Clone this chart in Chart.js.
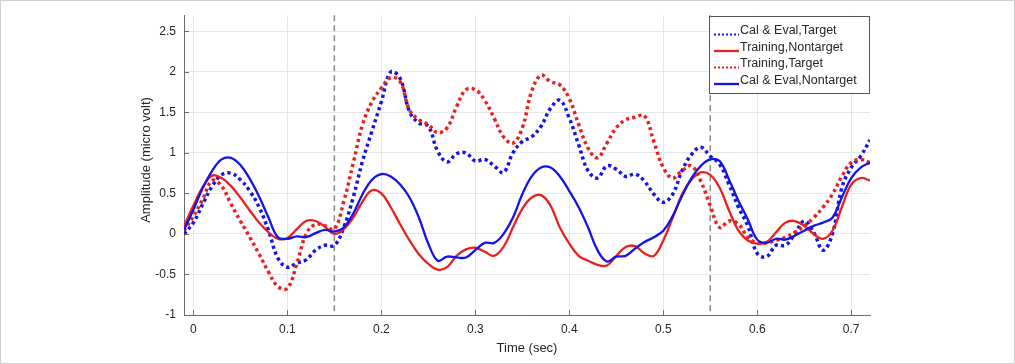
<!DOCTYPE html>
<html>
<head>
<meta charset="utf-8">
<script src="https://cdn.jsdelivr.net/npm/chart.js@4.4.1/dist/chart.umd.min.js"></script>
<style>
  html, body { margin: 0; padding: 0; background: #ffffff; }
  #wrap { position: relative; width: 1015px; height: 364px; }
</style>
</head>
<body>
<div id="wrap"><canvas id="c" width="1015" height="364"></canvas></div>
<script>
// ---- data ----
const times = [-0.01, 0.00, 0.01, 0.02, 0.03, 0.04, 0.05, 0.06, 0.07, 0.08, 0.09,
  0.10, 0.11, 0.12, 0.13, 0.14, 0.15, 0.16, 0.17, 0.18, 0.19,
  0.20, 0.21, 0.22, 0.23, 0.24, 0.25, 0.26, 0.27, 0.28, 0.29,
  0.30, 0.31, 0.32, 0.33, 0.34, 0.35, 0.36, 0.37, 0.38, 0.39,
  0.40, 0.41, 0.42, 0.43, 0.44, 0.45, 0.46, 0.47, 0.48, 0.49,
  0.50, 0.51, 0.52, 0.53, 0.54, 0.55, 0.56, 0.57, 0.58, 0.59,
  0.60, 0.61, 0.62, 0.63, 0.64, 0.65, 0.66, 0.67, 0.68, 0.69,
  0.70, 0.71, 0.72];

const calEvalTarget = [0.0, 0.14, 0.37, 0.59, 0.73, 0.75, 0.67, 0.53, 0.33, 0.04, -0.3,
  -0.41, -0.36, -0.32, -0.2, -0.14, -0.14, 0.08, 0.45, 0.9, 1.27,
  1.63, 2.0, 1.92, 1.51, 1.37, 1.33, 1.02, 0.89, 0.99, 1.0,
  0.9, 0.92, 0.84, 0.76, 1.0, 1.14, 1.2, 1.33, 1.55, 1.65,
  1.43, 1.1, 0.78, 0.69, 0.84, 0.8, 0.71, 0.74, 0.65, 0.49,
  0.39, 0.49, 0.78, 0.98, 1.07, 0.96, 0.86, 0.61, 0.33, 0.1,
  -0.24, -0.28, -0.14, -0.14, 0.0, 0.16, 0.02, -0.2, 0.0, 0.57,
  0.82, 0.96, 1.16];

const trainingNontarget = [0.1, 0.35, 0.58, 0.72, 0.69, 0.59, 0.45, 0.29, 0.14, 0.02, -0.06,
  -0.05, 0.06, 0.16, 0.16, 0.09, 0.0, 0.06, 0.2, 0.4, 0.54,
  0.5, 0.33, 0.12, -0.08, -0.25, -0.37, -0.44, -0.41, -0.27, -0.19,
  -0.17, -0.22, -0.27, -0.16, 0.08, 0.31, 0.45, 0.48, 0.35, 0.08,
  -0.12, -0.27, -0.33, -0.38, -0.39, -0.27, -0.16, -0.15, -0.24, -0.27,
  -0.08, 0.2, 0.49, 0.67, 0.76, 0.73, 0.57, 0.29, 0.04, -0.08,
  -0.12, -0.1, 0.02, 0.14, 0.16, 0.1, 0.0, -0.06, 0.04, 0.33,
  0.61, 0.69, 0.66];

const trainingTarget = [0.04, 0.22, 0.43, 0.66, 0.59, 0.37, 0.16, -0.04, -0.25, -0.47, -0.65,
  -0.67, -0.37, 0.0, 0.12, 0.1, 0.06, 0.4, 0.87, 1.35, 1.63,
  1.8, 1.93, 1.88, 1.53, 1.41, 1.35, 1.25, 1.31, 1.57, 1.78,
  1.78, 1.65, 1.43, 1.2, 1.12, 1.31, 1.76, 1.96, 1.88, 1.84,
  1.67, 1.35, 1.06, 0.94, 1.12, 1.31, 1.41, 1.44, 1.46, 1.14,
  0.82, 0.69, 0.78, 0.84, 0.65, 0.35, 0.08, 0.16, 0.12, -0.04,
  -0.11, -0.11, -0.08, -0.04, 0.02, 0.1, 0.2, 0.33, 0.49, 0.71,
  0.88, 0.92, 0.88];

const calEvalNontarget = [0.05, 0.3, 0.57, 0.78, 0.92, 0.94, 0.85, 0.68, 0.46, 0.2, -0.04,
  -0.06, -0.03, -0.04, 0.01, 0.05, 0.03, 0.08, 0.25, 0.49, 0.67,
  0.74, 0.71, 0.61, 0.45, 0.2, -0.12, -0.33, -0.28, -0.29, -0.29,
  -0.2, -0.11, -0.11, 0.0, 0.2, 0.49, 0.71, 0.82, 0.82, 0.71,
  0.53, 0.33, 0.08, -0.2, -0.34, -0.28, -0.27, -0.18, -0.1, -0.04,
  0.04, 0.22, 0.47, 0.69, 0.84, 0.92, 0.9, 0.67, 0.41, 0.18,
  -0.07, -0.11, -0.06, -0.07, -0.02, 0.04, 0.1, 0.14, 0.2, 0.45,
  0.69, 0.82, 0.88];

const seriesNames = ["Cal & Eval,Target", "Training,Nontarget", "Training,Target", "Cal & Eval,Nontarget"];
const xTickValues = [0, 0.1, 0.2, 0.3, 0.4, 0.5, 0.6, 0.7];
const xTickLabels = ["0", "0.1", "0.2", "0.3", "0.4", "0.5", "0.6", "0.7"];
const yTickValues = [-1, -0.5, 0, 0.5, 1, 1.5, 2, 2.5];
const yTickLabels = ["-1", "-0.5", "0", "0.5", "1", "1.5", "2", "2.5"];
const markerTimes = [0.15, 0.55];
const xTitle = "Time (sec)";
const yTitle = "Amplitude (micro volt)";

// ---- styles ----
const BLUE = "#1414e6";
const RED = "#e8211f";
const FONT = "'Liberation Sans', Arial, Helvetica, sans-serif";

function pts(vals) { return times.map((t, i) => ({ x: t, y: vals[i] })); }

const styleDotted = { borderWidth: 3.5, borderDash: [3.2, 3.2], borderCapStyle: 'butt' };
const styleSolid = { borderWidth: 2.3, borderDash: [] };

const datasets = [
  Object.assign({ label: seriesNames[0], data: pts(calEvalTarget), borderColor: BLUE, order: 4 }, styleDotted),
  Object.assign({ label: seriesNames[1], data: pts(trainingNontarget), borderColor: RED, order: 3 }, styleSolid),
  Object.assign({ label: seriesNames[2], data: pts(trainingTarget), borderColor: RED, order: 2 }, styleDotted),
  Object.assign({ label: seriesNames[3], data: pts(calEvalNontarget), borderColor: BLUE, order: 1 }, styleSolid)
];
datasets.forEach(d => { d.pointRadius = 0; d.fill = false; d.tension = 0.4; });

const decor = {
  id: 'decor',
  beforeDatasetsDraw(chart) {
    const ctx = chart.ctx, xs = chart.scales.x, ys = chart.scales.y, a = chart.chartArea;
    ctx.save();
    // inward ticks
    ctx.strokeStyle = '#6e6e6e'; ctx.lineWidth = 1;
    ctx.beginPath();
    xTickValues.forEach(v => { const px = Math.round(xs.getPixelForValue(v)) + 0.5; ctx.moveTo(px, a.bottom); ctx.lineTo(px, a.bottom - 5); });
    yTickValues.forEach(v => { const py = Math.round(ys.getPixelForValue(v)) + 0.5; ctx.moveTo(a.left, py); ctx.lineTo(a.left + 5, py); });
    ctx.stroke();
    // dashed marker lines
    ctx.strokeStyle = '#8a8a8a'; ctx.lineWidth = 1.5; ctx.setLineDash([6, 4]);
    markerTimes.forEach(t => {
      const px = xs.getPixelForValue(t);
      ctx.beginPath(); ctx.moveTo(px, a.top); ctx.lineTo(px, a.bottom); ctx.stroke();
    });
    ctx.restore();
  },
  afterDraw(chart) {
    const ctx = chart.ctx, a = chart.chartArea;
    ctx.save();
    // figure border
    ctx.strokeStyle = '#cfcfcf'; ctx.lineWidth = 1;
    ctx.strokeRect(0.5, 0.5, chart.width - 1, chart.height - 1);
    // axis titles
    ctx.fillStyle = '#262626';
    ctx.font = "13px " + FONT;
    ctx.textAlign = 'center'; ctx.textBaseline = 'middle';
    ctx.fillText(xTitle, (a.left + a.right) / 2, 348);
    ctx.translate(146, 160); ctx.rotate(-Math.PI / 2);
    ctx.fillText(yTitle, 0, 0);
    ctx.restore();
    // legend
    ctx.save();
    const bx = 709.5, by = 16.5, bw = 160, bh = 77;
    ctx.fillStyle = '#ffffff'; ctx.fillRect(bx, by, bw, bh);
    ctx.strokeStyle = '#555555'; ctx.lineWidth = 1; ctx.strokeRect(bx, by, bw, bh);
    const rows = [31, 47.5, 64, 80.5];
    ctx.font = "12.5px " + FONT; ctx.textAlign = 'left'; ctx.textBaseline = 'middle';
    datasets.forEach((d, i) => {
      const y = rows[i];
      ctx.strokeStyle = d.borderColor;
      ctx.lineWidth = d.borderDash.length ? 2 : 2.3;
      ctx.setLineDash(d.borderDash.length ? [2, 2] : []);
      ctx.beginPath(); ctx.moveTo(714, y + 3.5); ctx.lineTo(739, y + 3.5); ctx.stroke();
      ctx.fillStyle = '#262626';
      ctx.fillText(d.label, 740, y);
    });
    ctx.restore();
  }
};

new Chart(document.getElementById('c'), {
  type: 'line',
  data: { datasets },
  options: {
    responsive: false,
    animation: false,
    layout: { padding: { left: 130, right: 145, top: 13, bottom: 0 } },
    plugins: { legend: { display: false }, tooltip: { enabled: false } },
    scales: {
      x: {
        type: 'linear', min: -0.01, max: 0.72,
        afterBuildTicks(s) { s.ticks = xTickValues.map(v => ({ value: v })); },
        afterFit(s) { s.height = 49; },
        grid: { color: '#e6e6e6', lineWidth: 1, drawTicks: false },
        border: { display: true, color: '#6e6e6e', width: 1 },
        ticks: {
          padding: 7, color: '#262626', font: { family: FONT, size: 12 }, maxRotation: 0, autoSkip: false,
          callback: (v) => { const i = xTickValues.findIndex(t => Math.abs(t - v) < 1e-9); return i >= 0 ? xTickLabels[i] : ''; }
        }
      },
      y: {
        type: 'linear', min: -1, max: 2.7,
        afterBuildTicks(s) { s.ticks = yTickValues.map(v => ({ value: v })); },
        afterFit(s) { s.width = 54; },
        grid: { color: '#e6e6e6', lineWidth: 1, drawTicks: false },
        border: { display: true, color: '#6e6e6e', width: 1 },
        ticks: {
          padding: 8, color: '#262626', font: { family: FONT, size: 12 }, autoSkip: false,
          callback: (v) => { const i = yTickValues.findIndex(t => Math.abs(t - v) < 1e-9); return i >= 0 ? yTickLabels[i] : ''; }
        }
      }
    }
  },
  plugins: [decor]
});
</script>
</body>
</html>
